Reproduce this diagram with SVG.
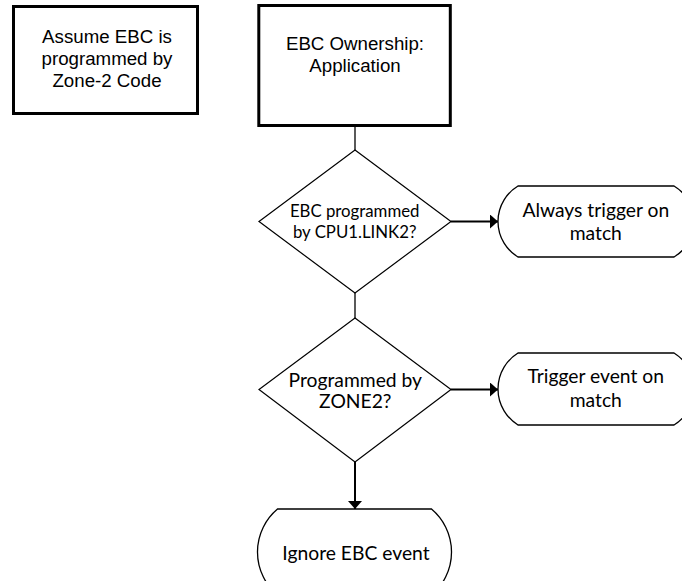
<svg xmlns="http://www.w3.org/2000/svg" width="682" height="581" viewBox="0 0 682 581">
<defs>
<style>
.box{fill:#fff;stroke:#000;stroke-width:3}
.dec{fill:#fff;stroke:#000;stroke-width:1.2}
.term{fill:#fff;stroke:#000;stroke-width:1.3}
.ta{font-family:"Liberation Sans",Arial,sans-serif;font-size:18.7px;fill:#000;text-anchor:middle}
.tc{font-family:Lato,"Noto Sans",sans-serif;fill:#000;text-anchor:middle;font-size:19.3px}
.ts{font-size:16.8px}
.thin{stroke:#000;stroke-width:1.3;fill:none}
.arr{stroke:#000;stroke-width:2;fill:none;marker-end:url(#ah)}
</style>
<marker id="ah" markerUnits="userSpaceOnUse" markerWidth="8" markerHeight="14" refX="8" refY="7" orient="auto">
<path d="M0,0 L8,7 L0,14 Z" fill="#000"/>
</marker>
</defs>
<rect width="682" height="581" fill="#fff"/>
<g id="connectors">
<line class="thin" x1="355" y1="126" x2="355" y2="150"/>
<line class="thin" x1="355" y1="293" x2="355" y2="318"/>
<line class="arr" x1="451" y1="221.5" x2="498" y2="221.5"/>
<line class="arr" x1="451" y1="389.5" x2="498" y2="389.5"/>
<line class="arr" x1="355" y1="462" x2="355" y2="509"/>
</g>
<g id="note">
<rect class="box" x="13.5" y="6.5" width="184" height="107"/>
<text class="ta" x="107" y="43">Assume EBC is</text>
<text class="ta" x="107" y="65">programmed by</text>
<text class="ta" x="107" y="87">Zone-2 Code</text>
</g>
<g id="start">
<rect class="box" x="258.8" y="5.5" width="191.5" height="120"/>
<text class="ta" x="355" y="50">EBC Ownership:</text>
<text class="ta" x="355" y="72">Application</text>
</g>
<g id="dec1">
<polygon class="dec" points="355,150 451,221.5 355,293 259,221.5"/>
<text class="tc ts" x="354.7" y="216.7">EBC programmed</text>
<text class="tc ts" x="354.7" y="238.3">by CPU1.LINK2?</text>
</g>
<g id="term1">
<path class="term" d="M518,186 H674 A41.5,41.5 0 0 1 674,257 H518 A41.5,41.5 0 0 1 518,186 Z"/>
<text class="tc" x="595.8" y="216.7">Always trigger on</text>
<text class="tc" x="595.8" y="240">match</text>
</g>
<g id="dec2">
<polygon class="dec" points="355,318 451,389.5 355,462 259,389.5"/>
<text class="tc" x="355.3" y="386.7">Programmed by</text>
<text class="tc" x="355.3" y="408.3">ZONE2?</text>
</g>
<g id="term2">
<path class="term" d="M518,353 H674 A42.4,42.4 0 0 1 674,425 H518 A42.4,42.4 0 0 1 518,353 Z"/>
<text class="tc" x="595.8" y="383.3">Trigger event on</text>
<text class="tc" x="595.8" y="406.7">match</text>
</g>
<g id="term3">
<path class="term" d="M277.5,509 H431.5 A56.2,56.2 0 0 1 431.5,595 H277.5 A56.2,56.2 0 0 1 277.5,509 Z"/>
<text class="tc" x="356" y="560">Ignore EBC event</text>
</g>
</svg>
